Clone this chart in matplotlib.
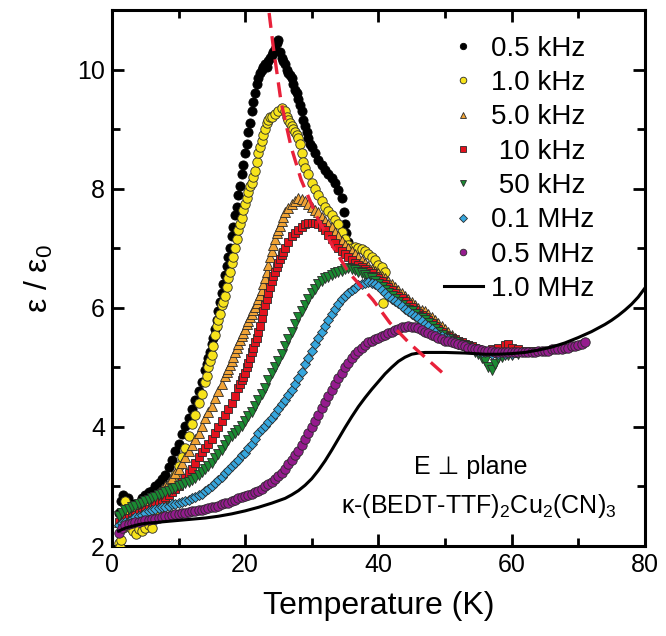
import matplotlib
matplotlib.use("Agg")
import matplotlib.pyplot as plt
from matplotlib.ticker import MultipleLocator
import numpy as np

plt.rcParams["font.family"] = ["Liberation Sans", "DejaVu Sans"]
plt.rcParams["mathtext.fontset"] = "custom"
plt.rcParams["mathtext.rm"] = "Liberation Sans"
plt.rcParams["mathtext.it"] = "Liberation Sans:italic"

# --------------------------------------------------------------------------
# data: (temperature K, eps/eps0)
# --------------------------------------------------------------------------
f05k = [(1.0,2.55),(1.3,2.75),(1.6,2.85),(2.0,2.7),(2.4,2.8),(2.8,2.65),(3.2,2.7),(3.6,2.62),
        (4.0,2.7),(4.5,2.8),(5.0,2.85),(5.5,2.9),(6.0,2.92),(6.5,3.0),(7.0,3.05),(7.5,3.12),
        (8.0,3.2),(8.5,3.32),(9.0,3.45),(9.5,3.6),(10.0,3.72),(10.5,3.88),(11.0,4.02),(11.5,4.15),
        (12.0,4.3),(12.5,4.45),(13.0,4.6),(13.5,4.75),(14.0,4.95),(14.25,5.05),(14.5,5.15),
        (14.75,5.25),(15.0,5.4),(15.25,5.5),(15.5,5.65),(15.75,5.8),(16.0,5.95),(16.25,6.1),
        (16.5,6.25),(16.75,6.4),(17.0,6.55),(17.25,6.7),(17.5,6.85),(17.75,7.0),(18.0,7.2),
        (18.25,7.35),(18.5,7.55),(18.75,7.7),(19.0,7.9),(19.25,8.05),(19.5,8.25),(19.75,8.4),
        (20.0,8.6),(20.25,8.75),(20.5,8.95),(20.75,9.1),(21.0,9.3),(21.25,9.45),(21.5,9.6),
        (21.75,9.75),(22.0,9.85),(22.25,9.95),(22.5,10.0),(22.75,10.05),(23.0,10.1),(23.25,10.05),
        (23.5,10.15),(23.75,10.2),(24.0,10.25),(24.25,10.3),(24.5,10.35),(24.75,10.45),(25.0,10.5),
        (25.25,10.3),(25.5,10.2),(25.75,10.15),(26.0,10.1),(26.25,10.0),(26.5,9.95),(26.75,9.9),
        (27.0,9.85),(27.25,9.75),(27.5,9.65),(27.75,9.6),(28.0,9.5),(28.25,9.4),(28.5,9.3),
        (28.75,9.15),(29.0,9.05),(29.25,8.95),(29.5,8.85),(29.75,8.75),(30.0,8.7),(30.5,8.6),
        (31.0,8.48),(31.5,8.4),(32.0,8.32),(32.5,8.25),(33.0,8.18),(33.5,8.1),(34.0,7.98),
        (34.5,7.85),(34.8,7.6),(35.0,7.4),(35.2,7.25),(35.5,7.1),(36.0,7.0)]

f1k = [(1.0,2.05),(1.2,1.98),(1.4,2.1),(1.6,2.3),(1.8,2.45),(2.0,2.75),(2.2,2.6),(2.5,2.45),
       (2.8,2.3),(3.2,2.25),(3.6,2.2),(4.0,2.28),(4.5,2.25),(5.0,2.3),(5.5,2.35),(6.0,2.3),
       (6.5,2.45),(7.0,2.55),(7.5,2.65),(8.0,2.8),(8.5,2.9),(9.0,3.0),(9.5,3.2),(10.0,3.35),
       (10.5,3.5),(11.0,3.65),(11.5,3.85),(12.0,4.05),(12.5,4.2),(13.0,4.4),(13.5,4.55),
       (14.0,4.75),(14.25,4.85),(14.5,5.0),(14.75,5.1),(15.0,5.2),(15.25,5.35),(15.5,5.55),
       (15.75,5.7),(16.0,5.8),(16.25,5.9),(16.5,6.05),(16.75,6.1),(17.0,6.2),(17.25,6.35),
       (17.5,6.5),(17.75,6.6),(18.0,6.75),(18.25,6.85),(18.5,7.0),(18.75,7.15),(19.0,7.3),
       (19.25,7.4),(19.5,7.5),(19.75,7.65),(20.0,7.75),(20.25,7.85),(20.5,7.95),(20.75,8.05),
       (21.0,8.1),(21.25,8.2),(21.5,8.3),(21.75,8.45),(22.0,8.6),(22.25,8.7),(22.5,8.8),
       (22.75,8.9),(23.0,9.0),(23.25,9.1),(23.5,9.15),(23.75,9.2),(24.0,9.2),(24.5,9.25),
       (25.0,9.3),(25.5,9.35),(26.0,9.3),(26.25,9.2),(26.5,9.15),(26.75,9.1),(27.0,9.05),
       (27.25,9.0),(27.5,8.95),(27.75,8.9),(28.0,8.85),(28.25,8.75),(28.5,8.6),(28.75,8.45),
       (29.0,8.35),(29.5,8.25),(30.0,8.1),(30.5,8.0),(31.0,7.9),(31.5,7.8),(32.0,7.7),
       (32.5,7.62),(33.0,7.55),(33.5,7.48),(34.0,7.4),(34.5,7.28),(35.0,7.15),(35.5,7.05),
       (36.0,7.0),(36.5,7.02),(37.0,7.0),(37.5,6.98),(38.0,6.95),(38.5,6.9),(39.0,6.85),
       (39.5,6.8),(40.0,6.72),(40.5,6.68),(41.0,6.6),(40.7,6.08)]

f5k = [(1.0,2.4),(1.5,2.42),(2.0,2.45),(2.5,2.5),(3.0,2.55),(3.5,2.6),(4.0,2.63),(4.5,2.67),
       (5.0,2.7),(5.5,2.75),(6.0,2.8),(6.5,2.85),(7.0,2.9),(7.5,2.95),(8.0,3.0),(8.5,3.08),
       (9.0,3.15),(9.5,3.22),(10.0,3.3),(10.5,3.4),(11.0,3.5),(11.5,3.6),(12.0,3.7),(12.5,3.8),
       (13.0,3.9),(13.5,4.02),(14.0,4.15),(14.5,4.25),(15.0,4.35),(15.5,4.48),(16.0,4.6),
       (16.5,4.72),(17.0,4.85),(17.25,4.92),(17.5,4.98),(17.75,5.04),(18.0,5.1),(18.25,5.18),
       (18.5,5.25),(18.75,5.32),(19.0,5.4),(19.25,5.46),(19.5,5.52),(19.75,5.58),(20.0,5.65),
       (20.25,5.72),(20.5,5.78),(20.75,5.84),(21.0,5.9),(21.25,5.96),(21.5,6.02),(21.75,6.08),
       (22.0,6.15),(22.25,6.22),(22.5,6.3),(22.75,6.4),(23.0,6.5),(23.25,6.6),(23.5,6.72),
       (23.75,6.85),(24.0,6.95),(24.25,7.05),(24.5,7.15),(24.75,7.25),(25.0,7.3),(25.25,7.38),
       (25.5,7.45),(25.75,7.53),(26.0,7.6),(26.5,7.68),(27.0,7.75),(27.5,7.8),(28.0,7.85),
       (28.5,7.82),(29.0,7.8),(29.5,7.75),(30.0,7.7),(30.5,7.65),(31.0,7.6),(31.5,7.52),
       (32.0,7.45),(32.5,7.4),(33.0,7.35),(33.5,7.28),(34.0,7.2),(34.5,7.12),(35.0,7.05),
       (35.5,7.0),(36.0,6.95),(36.5,6.9),(37.0,6.85),(37.5,6.8),(38.0,6.75),(38.5,6.7),
       (39.0,6.65),(39.5,6.62),(40.0,6.58),(40.5,6.54),(41.0,6.5),(41.5,6.45),(42.0,6.4),
       (42.5,6.35),(43.0,6.3),(43.5,6.25),(44.0,6.2),(44.5,6.15),(45.0,6.1),(45.5,6.05),
       (46.0,6.0),(46.5,5.97),(47.0,5.95),(47.5,5.9),(48.0,5.85),(48.5,5.8),(49.0,5.75),
       (49.5,5.7),(50.0,5.65),(50.5,5.6),(51.0,5.55),(51.5,5.5),(52.0,5.45),(52.5,5.42),
       (53.0,5.4),(53.5,5.37),(54.0,5.35),(54.5,5.32),(55.0,5.3),(55.5,5.28),(56.0,5.25),
       (57.0,5.25),(58.0,5.25),(59.0,5.25),(60.0,5.25)]

f10k = [(1.0,2.4),(1.5,2.42),(2.0,2.45),(2.5,2.47),(3.0,2.5),(3.5,2.52),(4.0,2.55),(4.5,2.57),
        (5.0,2.6),(5.5,2.62),(6.0,2.65),(6.5,2.7),(7.0,2.75),(7.5,2.78),(8.0,2.82),(8.5,2.86),
        (9.0,2.9),(9.5,2.95),(10.0,3.0),(10.5,3.08),(11.0,3.15),(11.5,3.22),(12.0,3.3),
        (12.5,3.4),(13.0,3.5),(13.5,3.58),(14.0,3.65),(14.5,3.72),(15.0,3.8),(15.5,3.9),
        (16.0,4.0),(16.5,4.1),(17.0,4.2),(17.5,4.3),(18.0,4.4),(18.5,4.52),(19.0,4.65),
        (19.25,4.72),(19.5,4.78),(19.75,4.84),(20.0,4.9),(20.25,5.0),(20.5,5.08),(20.75,5.16),
        (21.0,5.25),(21.25,5.33),(21.5,5.42),(21.75,5.5),(22.0,5.6),(22.25,5.7),(22.5,5.82),
        (22.75,5.94),(23.0,6.05),(23.25,6.15),(23.5,6.25),(23.75,6.35),(24.0,6.45),(24.25,6.53),
        (24.5,6.6),(24.75,6.68),(25.0,6.75),(25.25,6.82),(25.5,6.88),(25.75,6.94),(26.0,7.0),
        (26.5,7.1),(27.0,7.2),(27.5,7.25),(28.0,7.3),(28.5,7.35),(29.0,7.4),(29.5,7.42),
        (30.0,7.42),(30.5,7.42),(31.0,7.4),(31.5,7.35),(32.0,7.3),(32.5,7.22),(33.0,7.15),
        (33.5,7.08),(34.0,7.0),(34.5,6.95),(35.0,6.9),(35.5,6.85),(36.0,6.8),(36.5,6.76),
        (37.0,6.72),(37.5,6.68),(38.0,6.65),(38.5,6.62),(39.0,6.58),(39.5,6.54),(40.0,6.5),
        (40.5,6.45),(41.0,6.4),(41.5,6.35),(42.0,6.3),(42.5,6.25),(43.0,6.2),(43.5,6.16),
        (44.0,6.12),(44.5,6.07),(45.0,6.02),(45.5,5.97),(46.0,5.92),(46.5,5.88),(47.0,5.85),
        (47.5,5.8),(48.0,5.75),(48.5,5.7),(49.0,5.65),(49.5,5.6),(50.0,5.55),(50.5,5.52),
        (51.0,5.5),(51.5,5.47),(52.0,5.45),(52.5,5.42),(53.0,5.4),(53.5,5.37),(54.0,5.35),
        (54.5,5.32),(55.0,5.3),(56.0,5.28),(57.0,5.3),(58.0,5.33),(59.0,5.38),(59.5,5.4),
        (60.0,5.32),(61.0,5.3),(62.0,5.28),(63.0,5.27),(64.0,5.27)]

f50k = [(1.0,2.5),(1.5,2.55),(2.0,2.6),(2.5,2.62),(3.0,2.65),(3.5,2.68),(4.0,2.7),(4.5,2.73),
        (5.0,2.75),(5.5,2.78),(6.0,2.8),(6.5,2.82),(7.0,2.85),(7.5,2.88),(8.0,2.9),(8.5,2.92),
        (9.0,2.95),(9.5,2.98),(10.0,3.0),(10.5,3.02),(11.0,3.05),(11.5,3.08),(12.0,3.1),
        (12.5,3.15),(13.0,3.2),(13.5,3.25),(14.0,3.3),(14.5,3.35),(15.0,3.4),(15.5,3.48),
        (16.0,3.55),(16.5,3.62),(17.0,3.7),(17.5,3.78),(18.0,3.85),(18.5,3.9),(19.0,3.95),
        (19.5,4.02),(20.0,4.1),(20.5,4.18),(21.0,4.25),(21.5,4.35),(22.0,4.45),(22.5,4.55),
        (23.0,4.65),(23.5,4.78),(24.0,4.9),(24.5,5.0),(25.0,5.1),(25.5,5.22),(26.0,5.35),
        (26.5,5.48),(27.0,5.6),(27.5,5.72),(28.0,5.85),(28.5,5.95),(29.0,6.05),(29.5,6.15),
        (30.0,6.25),(30.5,6.32),(31.0,6.4),(31.5,6.45),(32.0,6.5),(32.5,6.52),(33.0,6.55),
        (33.5,6.58),(34.0,6.6),(34.5,6.62),(35.0,6.65),(35.5,6.66),(36.0,6.65),(36.5,6.63),
        (37.0,6.6),(37.5,6.58),(38.0,6.55),(38.5,6.52),(39.0,6.5),(39.5,6.45),(40.0,6.4),
        (40.5,6.35),(41.0,6.3),(41.5,6.25),(42.0,6.2),(42.5,6.15),(43.0,6.1),(43.5,6.05),
        (44.0,6.0),(44.5,5.97),(45.0,5.95),(45.5,5.9),(46.0,5.85),(46.5,5.82),(47.0,5.8),
        (47.5,5.75),(48.0,5.7),(48.5,5.65),(49.0,5.6),(49.5,5.55),(50.0,5.5),(50.5,5.47),
        (51.0,5.45),(51.5,5.42),(52.0,5.4),(52.5,5.37),(53.0,5.35),(53.5,5.32),(54.0,5.3),
        (54.5,5.25),(55.0,5.22),(55.5,5.15),(56.0,5.1),(56.5,5.0),(57.0,4.95),(57.5,5.05),
        (58.0,5.15),(58.5,5.18),(59.0,5.2),(59.5,5.2),(60.0,5.2),(61.0,5.22)]

f01M = [(1.0,2.35),(1.5,2.38),(2.0,2.4),(2.5,2.42),(3.0,2.45),(3.5,2.48),(4.0,2.5),(4.5,2.52),
        (5.0,2.55),(5.5,2.58),(6.0,2.6),(6.5,2.62),(7.0,2.63),(7.5,2.65),(8.0,2.66),(8.5,2.68),
        (9.0,2.7),(9.5,2.71),(10.0,2.72),(10.5,2.74),(11.0,2.75),(11.5,2.78),(12.0,2.8),
        (12.5,2.82),(13.0,2.85),(13.5,2.88),(14.0,2.92),(14.5,2.96),(15.0,3.0),(15.5,3.05),
        (16.0,3.1),(16.5,3.16),(17.0,3.22),(17.5,3.28),(18.0,3.35),(18.5,3.4),(19.0,3.45),
        (19.5,3.52),(20.0,3.57),(20.5,3.65),(21.0,3.72),(21.5,3.8),(22.0,3.9),(22.5,3.96),
        (23.0,4.02),(23.5,4.08),(24.0,4.15),(24.5,4.22),(25.0,4.3),(25.5,4.38),(26.0,4.45),
        (26.5,4.53),(27.0,4.62),(27.5,4.72),(28.0,4.82),(28.5,4.93),(29.0,5.05),(29.5,5.16),
        (30.0,5.28),(30.5,5.4),(31.0,5.5),(31.5,5.6),(32.0,5.7),(32.5,5.8),(33.0,5.9),
        (33.5,5.98),(34.0,6.07),(34.5,6.14),(35.0,6.2),(35.5,6.25),(36.0,6.3),(36.5,6.34),
        (37.0,6.38),(37.5,6.4),(38.0,6.42),(38.5,6.43),(39.0,6.42),(39.5,6.4),(40.0,6.36),
        (40.5,6.3),(41.0,6.25),(41.5,6.2),(42.0,6.15),(42.5,6.12),(43.0,6.08),(43.5,6.03),
        (44.0,5.98),(44.5,5.94),(45.0,5.9),(45.5,5.86),(46.0,5.82),(46.5,5.78),(47.0,5.73),
        (47.5,5.69),(48.0,5.65),(48.5,5.6),(49.0,5.55),(49.5,5.52),(50.0,5.5),(50.5,5.47),
        (51.0,5.45),(51.5,5.42),(52.0,5.4),(52.5,5.37),(53.0,5.35),(53.5,5.32),(54.0,5.3),
        (54.5,5.29),(55.0,5.28),(55.5,5.26),(56.0,5.25),(57.0,5.22),(58.0,5.22),(59.0,5.22),
        (60.0,5.22)]

f05M = [(1.0,2.22),(1.5,2.3),(2.0,2.35),(2.5,2.37),(3.0,2.38),(3.5,2.4),(4.0,2.41),(4.5,2.42),
        (5.0,2.43),(5.5,2.44),(6.0,2.45),(6.5,2.46),(7.0,2.47),(7.5,2.48),(8.0,2.5),(8.5,2.51),
        (9.0,2.52),(9.5,2.53),(10.0,2.54),(10.5,2.55),(11.0,2.56),(11.5,2.57),(12.0,2.58),
        (12.5,2.59),(13.0,2.6),(13.5,2.61),(14.0,2.62),(14.5,2.63),(15.0,2.65),(15.5,2.66),
        (16.0,2.68),(16.5,2.7),(17.0,2.72),(17.5,2.73),(18.0,2.75),(18.5,2.78),(19.0,2.8),
        (19.5,2.82),(20.0,2.84),(20.5,2.86),(21.0,2.88),(21.5,2.9),(22.0,2.93),(22.5,2.96),
        (23.0,3.0),(23.5,3.04),(24.0,3.08),(24.5,3.12),(25.0,3.17),(25.5,3.23),(26.0,3.3),
        (26.5,3.38),(27.0,3.45),(27.5,3.52),(28.0,3.6),(28.5,3.7),(29.0,3.8),(29.5,3.9),
        (30.0,4.0),(30.5,4.1),(31.0,4.2),(31.5,4.31),(32.0,4.42),(32.5,4.52),(33.0,4.62),
        (33.5,4.72),(34.0,4.82),(34.5,4.91),(35.0,5.0),(35.5,5.08),(36.0,5.15),(36.5,5.22),
        (37.0,5.28),(37.5,5.33),(38.0,5.38),(38.5,5.42),(39.0,5.45),(39.5,5.48),(40.0,5.5),
        (40.5,5.53),(41.0,5.55),(41.5,5.58),(42.0,5.6),(42.5,5.63),(43.0,5.65),(43.5,5.67),
        (44.0,5.68),(44.5,5.69),(45.0,5.68),(45.5,5.67),(46.0,5.66),(46.5,5.63),(47.0,5.6),
        (47.5,5.58),(48.0,5.55),(48.5,5.52),(49.0,5.5),(49.5,5.47),(50.0,5.45),(50.5,5.44),
        (51.0,5.42),(51.5,5.41),(52.0,5.4),(52.5,5.37),(53.0,5.35),(53.5,5.33),(54.0,5.32),
        (54.5,5.31),(55.0,5.3),(55.5,5.29),(56.0,5.28),(56.5,5.27),(57.0,5.27),(57.5,5.26),
        (58.0,5.26),(58.5,5.25),(59.0,5.25),(59.5,5.25),(60.0,5.25),(60.5,5.25),(61.0,5.25),
        (61.5,5.25),(62.0,5.25),(62.5,5.26),(63.0,5.26),(63.5,5.26),(64.0,5.27),(64.5,5.27),
        (65.0,5.28),(65.5,5.28),(66.0,5.3),(66.5,5.3),(67.0,5.3),(67.5,5.31),(68.0,5.32),
        (68.5,5.33),(69.0,5.35),(69.5,5.36),(70.0,5.38),(70.5,5.4),(71.0,5.42)]

f1M = [(1.0,2.25),(2.0,2.3),(3.0,2.33),(4.0,2.36),(5.0,2.38),(6.0,2.39),(8.0,2.41),(10.0,2.43),
       (12.0,2.45),(14.0,2.47),(16.0,2.5),(18.0,2.54),(20.0,2.59),(22.0,2.65),(24.0,2.72),
       (25.0,2.76),(26.0,2.8),(27.0,2.86),(28.0,2.93),(29.0,3.02),(30.0,3.13),(31.0,3.27),
       (32.0,3.43),(33.0,3.61),(34.0,3.8),(35.0,3.99),(36.0,4.17),(37.0,4.34),(38.0,4.49),
       (39.0,4.63),(40.0,4.76),(41.0,4.89),(42.0,5.0),(43.0,5.1),(44.0,5.17),(45.0,5.22),
       (46.0,5.24),(47.0,5.25),(50.0,5.25),(53.0,5.24),(56.0,5.22),(58.0,5.22),(60.0,5.23),
       (62.0,5.25),(64.0,5.29),(66.0,5.34),(68.0,5.41),(70.0,5.5),(72.0,5.6),(74.0,5.72),
       (75.0,5.79),(76.0,5.87),(77.0,5.96),(78.0,6.06),(79.0,6.18),(80.0,6.33)]

# red dashed guide through the peak maxima
peak_line = [(23.6,10.95),(24.2,10.4),(25.4,9.45),(26.9,8.7),(28.4,8.15),(30.8,7.52),
             (33.2,7.02),(35.5,6.6),(39.2,6.13),(41.7,5.75),(44.7,5.4),(49.7,4.9)]

labels  = ["0.5 kHz", "1.0 kHz", "5.0 kHz", " 10 kHz", " 50 kHz", "0.1 MHz", "0.5 MHz", "1.0 MHz"]
colors  = ["#000000", "#f7e31b", "#f0a336", "#e3121d", "#1a8a32", "#37a7de", "#951b8e"]
markers = ["o", "o", "^", "s", "v", "D", "o"]
sizes   = [6.6, 6.8, 6.8, 6.0, 6.8, 5.6, 6.8]

series = [f05k, f1k, f5k, f10k, f50k, f01M, f05M]

fig = plt.figure(figsize=(6.66, 6.36), dpi=100)
ax = fig.add_axes([0.168, 0.1415, 0.8003, 0.8428])

for i, data in enumerate(series):
    d = np.array(data)
    edge = "#000000" if i == 0 else "#2a2a2a"
    ax.plot(d[:, 0], d[:, 1], linestyle="none", marker=markers[i], ms=sizes[i],
            mfc=colors[i], mec=edge, mew=0.6, label=labels[i], zorder=2 + i)

d = np.array(f1M)
ax.plot(d[:, 0], d[:, 1], color="black", lw=2.2, label=labels[7], zorder=10)

d = np.array(peak_line)
ax.plot(d[:, 0], d[:, 1], color="#e8213a", lw=2.4, dashes=(4.5, 2.5), zorder=11)

ax.set_xlim(0, 80)
ax.set_ylim(2, 11)
ax.xaxis.set_major_locator(MultipleLocator(20))
ax.xaxis.set_minor_locator(MultipleLocator(10))
ax.yaxis.set_major_locator(MultipleLocator(2))
ax.yaxis.set_minor_locator(MultipleLocator(1))
ax.tick_params(which="both", direction="in", top=True, right=True, width=2.0,
               labelsize=18, pad=5)
ax.tick_params(which="major", length=8.5)
ax.tick_params(which="minor", length=5.5)
for sp in ax.spines.values():
    sp.set_linewidth(2.2)

ax.set_xlabel("Temperature (K)", fontsize=23, labelpad=10)
ax.set_ylabel(r"ε / ε$_\mathregular{0}$", fontsize=23, labelpad=16)

ax.text(53.8, 3.33, "E ⊥ plane", fontsize=18, ha="center", va="center", zorder=12)
ax.text(55.0, 2.68, r"κ-(BEDT-TTF)$_\mathregular{2}$Cu$_\mathregular{2}$(CN)$_\mathregular{3}$",
        fontsize=18, ha="center", va="center", zorder=12)

leg = ax.legend(loc="upper right", bbox_to_anchor=(0.905, 0.952), frameon=False, fontsize=20,
                markerscale=0.7, handlelength=1.4, handletextpad=0.3, labelspacing=0.3,
                borderaxespad=0, borderpad=0)

fig.savefig("out.png", dpi=100)
